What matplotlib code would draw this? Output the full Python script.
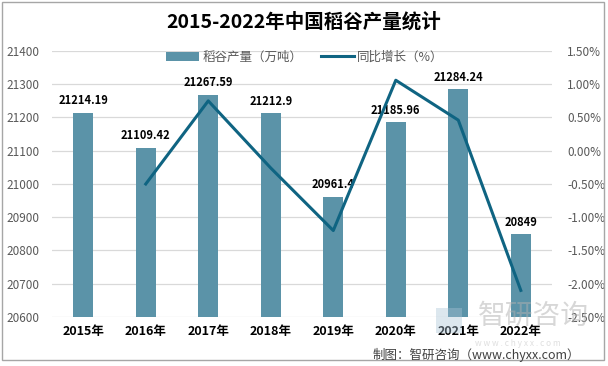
import matplotlib
matplotlib.use('Agg')
import matplotlib.pyplot as plt
from matplotlib.patches import Rectangle

plt.rcParams['font.family'] = ['Noto Sans CJK SC', 'DejaVu Sans']

# 数据
years = ['2015年', '2016年', '2017年', '2018年', '2019年', '2020年', '2021年', '2022年']
output = [21214.19, 21109.42, 21267.59, 21212.9, 20961.4, 21185.96, 21284.24, 20849]
output_labels = ['21214.19', '21109.42', '21267.59', '21212.9', '20961.4', '21185.96', '21284.24', '20849']
growth_years = years[1:]
growth = [-0.50, 0.75, -0.26, -1.20, 1.06, 0.46, -2.10]
left_ticks = [20600, 20700, 20800, 20900, 21000, 21100, 21200, 21300, 21400]
right_ticks = [-2.5, -2.0, -1.5, -1.0, -0.5, 0.0, 0.5, 1.0, 1.5]

bar_color = '#5B93A8'
line_color = '#0F6482'

fig = plt.figure(figsize=(6.08, 3.66), dpi=100)
ax = fig.add_axes([0.0855, 0.1339, 0.8225, 0.7268])

x = list(range(len(years)))
bars = ax.bar(x, [v - left_ticks[0] for v in output], bottom=left_ticks[0],
              width=0.32, color=bar_color, zorder=2, label='稻谷产量（万吨）')
ax.set_ylim(left_ticks[0], left_ticks[-1])
ax.set_xlim(-0.5, len(years) - 0.5)
ax.set_yticks(left_ticks)
ax.set_yticklabels([str(t) for t in left_ticks])
ax.set_xticks(x)
ax.set_xticklabels(years, fontweight='bold', fontsize=9, color='black')
ax.grid(axis='y', color='#D9D9D9', linewidth=0.9, zorder=0)
ax.tick_params(axis='y', length=0, labelsize=8.5, labelcolor='#595959', pad=9)
ax.tick_params(axis='x', length=0, pad=6)
for s in ax.spines.values():
    s.set_visible(False)

for xi, v, lab in zip(x, output, output_labels):
    ax.annotate(lab, (xi, v), xytext=(0, 4), textcoords='offset points',
                ha='center', va='bottom', fontsize=8, fontweight='bold', color='black', zorder=5)

ax2 = ax.twinx()
line, = ax2.plot(x[1:], growth, color=line_color, linewidth=2.2, zorder=3, label='同比增长（%）')
ax2.set_ylim(right_ticks[0], right_ticks[-1])
ax2.set_yticks(right_ticks)
ax2.set_yticklabels(['%.2f%%' % t for t in right_ticks])
ax2.tick_params(axis='y', length=0, labelsize=8.5, labelcolor='#595959', pad=11)
for s in ax2.spines.values():
    s.set_visible(False)

fig.text(0.5, 1 - 22 / 366, '2015-2022年中国稻谷产量统计', ha='center', va='center',
         fontsize=14, fontweight='bold', color='black')

fig.legend(handles=[bars, line], loc='center', bbox_to_anchor=(305 / 608, 1 - 57 / 366),
           ncol=2, frameon=False, fontsize=9, handlelength=2.6, columnspacing=1.5,
           labelcolor='#595959', handletextpad=0.3)

# 水印
fig.text(533 / 608, 1 - 316 / 366, '智研咨询', ha='center', va='center', fontsize=20,
         color='#B0B0B0', alpha=0.5, zorder=0)
fig.text(518 / 608, 1 - 343 / 366, 'w w w . c h y x x . c o m', ha='center', va='center',
         fontsize=6, color='#B0B0B0', alpha=0.4, zorder=0)
fig.patches.append(Rectangle((436 / 608, 1 - 333 / 366), 26 / 608, 25 / 366,
                             transform=fig.transFigure, facecolor='#A9C3D6', alpha=0.4,
                             edgecolor='none', zorder=0))

fig.text(476 / 608, 1 - 355 / 366, '制图：智研咨询（www.chyxx.com）', ha='center', va='center',
         fontsize=9, color='#404040')

fig.patches.append(Rectangle((2 / 608, 6 / 366), 602 / 608, 358 / 366, transform=fig.transFigure,
                             fill=False, edgecolor='#A6A6A6', linewidth=1))

fig.savefig('out.png', dpi=100)
